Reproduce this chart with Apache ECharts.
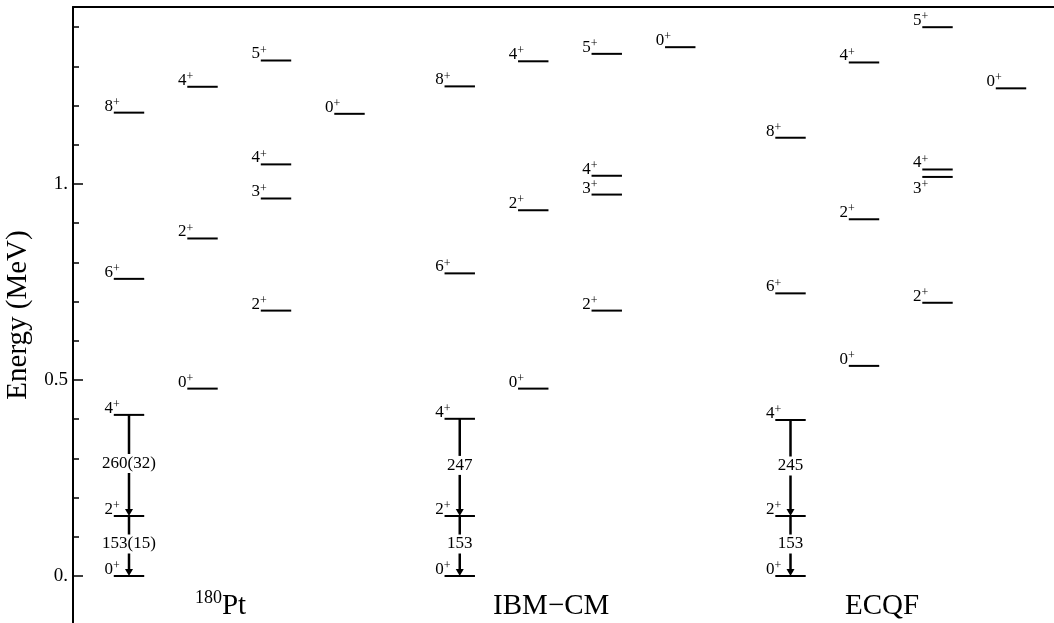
<!DOCTYPE html>
<html>
<head>
<meta charset="utf-8">
<script src="https://cdn.jsdelivr.net/npm/echarts@6/dist/echarts.min.js"></script>
<style>
  html, body { margin: 0; padding: 0; background: #fff; }
  #chart { width: 1054px; height: 623px; }
</style>
</head>
<body>
<div id="chart"></div>
<script>
// Level schemes of 180Pt: experiment, IBM-CM and ECQF (energies in MeV)

const panelNames = ['180Pt', 'IBM−CM', 'ECQF'];

// [column, J, energy (MeV)] — all states have positive parity
const expLevels = [
  [0, '0', 0.000], [0, '2', 0.153], [0, '4', 0.411], [0, '6', 0.758], [0, '8', 1.182],
  [1, '0', 0.478], [1, '2', 0.861], [1, '4', 1.248],
  [2, '2', 0.677], [2, '3', 0.963], [2, '4', 1.050], [2, '5', 1.315],
  [3, '0', 1.179]
];
const ibmLevels = [
  [0, '0', 0.000], [0, '2', 0.153], [0, '4', 0.401], [0, '6', 0.772], [0, '8', 1.249],
  [1, '0', 0.478], [1, '2', 0.933], [1, '4', 1.313],
  [2, '2', 0.677], [2, '3', 0.973], [2, '4', 1.021], [2, '5', 1.332],
  [3, '0', 1.349]
];
const ecqfLevels = [
  [0, '0', 0.000], [0, '2', 0.153], [0, '4', 0.398], [0, '6', 0.721], [0, '8', 1.118],
  [1, '0', 0.536], [1, '2', 0.910], [1, '4', 1.310],
  [2, '2', 0.697], [2, '3', 1.018], [2, '4', 1.037], [2, '5', 1.400],
  [3, '0', 1.244]
];

// Yrast E2 transitions in column 0: [initial J, final J, B(E2) in W.u.]
const expTransitions = [['4', '2', '260(32)'], ['2', '0', '153(15)']];
const ibmTransitions = [['4', '2', '247'], ['2', '0', '153']];
const ecqfTransitions = [['4', '2', '245'], ['2', '0', '153']];

const yTickValues = [0, 0.5, 1];
const yTickLabels = ['0.', '0.5', '1.'];
const yMinorTicks = [0.1, 0.2, 0.3, 0.4, 0.6, 0.7, 0.8, 0.9, 1.1, 1.2, 1.3, 1.4];

// ---- layout ----
const FONT = '"Liberation Serif", "Times New Roman", Times, serif';
const PANEL_STEP = 4.5;     // column slots between panels
const HALF = 0.207;         // half width of a level line (column units)
const CLOSE_GAP = 0.03;     // MeV: closer than this, the label goes below the line
const TITLE_SHIFT = 1.245;  // title centre relative to first column
const TITLE_E = -0.074;     // title height on the energy scale

const panelLevels = [expLevels, ibmLevels, ecqfLevels];
const panelTransitions = [expTransitions, ibmTransitions, ecqfTransitions];

const levelData = [], levelMeta = [];
panelLevels.forEach((levels, p) => {
  levels.forEach(([c, j, e]) => {
    const below = levels.some(([c2, , e2]) => c2 === c && e2 > e && e2 - e < CLOSE_GAP);
    levelData.push([p * PANEL_STEP + c, e]);
    levelMeta.push({ j, below });
  });
});

const transData = [], transMeta = [];
panelTransitions.forEach((trs, p) => {
  const lv = panelLevels[p];
  const energyOf = j => lv.find(([c, jj]) => c === 0 && jj === j)[2];
  trs.forEach(([ji, jf, label]) => {
    transData.push([p * PANEL_STEP, energyOf(ji), energyOf(jf)]);
    transMeta.push({ label });
  });
});

const titleData = panelNames.map((_, p) => [p * PANEL_STEP + TITLE_SHIFT, TITLE_E]);
const titleText = panelNames.map(n => {
  const m = n.match(/^(\d+)(.*)$/);
  return m ? '{s|' + m[1] + '}{m|' + m[2] + '}' : '{m|' + n + '}';
});

const RICH_J = {
  n: { fontSize: 17, fontFamily: FONT, lineHeight: 18, verticalAlign: 'bottom', fill: '#000', color: '#000' },
  p: { fontSize: 12, fontFamily: FONT, lineHeight: 6, verticalAlign: 'top', fill: '#000', color: '#000' }
};
const RICH_TITLE = {
  m: { fontSize: 29, fontFamily: FONT, lineHeight: 32, verticalAlign: 'bottom', fill: '#000', color: '#000' },
  s: { fontSize: 18, fontFamily: FONT, lineHeight: 18, verticalAlign: 'top', fill: '#000', color: '#000' }
};

function renderLevel(params, api) {
  const m = levelMeta[params.dataIndex];
  const a = api.coord([api.value(0) - HALF, api.value(1)]);
  const b = api.coord([api.value(0) + HALF, api.value(1)]);
  return {
    type: 'group',
    children: [
      { type: 'line', shape: { x1: a[0], y1: a[1], x2: b[0], y2: b[1] },
        style: { stroke: '#000', lineWidth: 2 } },
      { type: 'text', x: a[0] + 6, y: m.below ? a[1] + 2 : a[1] - 16,
        style: { text: '{n|' + m.j + '}{p|+}', rich: RICH_J, align: 'right', verticalAlign: 'top', fill: '#000' } }
    ]
  };
}

function renderTransition(params, api) {
  const m = transMeta[params.dataIndex];
  const top = api.coord([api.value(0), api.value(1)]);
  const bot = api.coord([api.value(0), api.value(2)]);
  const x = top[0];
  return {
    type: 'group',
    children: [
      { type: 'line', shape: { x1: x, y1: top[1], x2: x, y2: bot[1] - 4 },
        style: { stroke: '#000', lineWidth: 2.5 } },
      { type: 'polygon', shape: { points: [[x - 4, bot[1] - 7], [x + 4, bot[1] - 7], [x, bot[1]]] },
        style: { fill: '#000' } },
      { type: 'text', x: x, y: (top[1] + bot[1]) / 2 - 2,
        style: { text: m.label, font: '17px ' + FONT, fill: '#000', align: 'center', verticalAlign: 'middle',
                 backgroundColor: '#fff', padding: [1, 0] } }
    ]
  };
}

function renderTitle(params, api) {
  const pt = api.coord([api.value(0), api.value(1)]);
  return {
    type: 'text', x: pt[0], y: pt[1],
    style: { text: titleText[params.dataIndex], rich: RICH_TITLE, align: 'center', verticalAlign: 'middle', fill: '#000' }
  };
}

const chart = echarts.init(document.getElementById('chart'), null, { renderer: 'canvas' });
chart.setOption({
  animation: false,
  backgroundColor: '#fff',
  grid: { left: 73, top: 7, right: 0, bottom: 0, containLabel: false, outerBoundsMode: 'none' },
  xAxis: {
    type: 'value', position: 'top', min: -0.7619, max: 12.585,
    axisLine: { show: true, onZero: false, lineStyle: { color: '#000', width: 2 } },
    axisTick: { show: false }, axisLabel: { show: false }, splitLine: { show: false }
  },
  yAxis: [
    {
      type: 'value', min: -0.1199, max: 1.4515, position: 'left',
      name: 'Energy (MeV)', nameLocation: 'middle', nameGap: 38,
      nameTextStyle: { fontSize: 29, fontFamily: FONT, color: '#000' },
      axisLine: { show: true, onZero: false, lineStyle: { color: '#000', width: 2 } },
      axisTick: { show: true, inside: true, length: 10, customValues: yTickValues,
                  lineStyle: { color: '#000', width: 1.5 } },
      axisLabel: { show: true, customValues: yTickValues, margin: 5, fontSize: 19, fontFamily: FONT, color: '#000',
                   formatter: v => yTickLabels[yTickValues.findIndex(t => Math.abs(t - v) < 1e-9)] },
      splitLine: { show: false }
    },
    {
      type: 'value', min: -0.1199, max: 1.4515, position: 'left', offset: 0,
      axisLine: { show: false, onZero: false },
      axisTick: { show: true, inside: true, length: 6, customValues: yMinorTicks,
                  lineStyle: { color: '#000', width: 1.5 } },
      axisLabel: { show: false }, splitLine: { show: false }
    }
  ],
  series: [
    { type: 'custom', name: 'levels', renderItem: renderLevel, data: levelData, silent: true },
    { type: 'custom', name: 'transitions', renderItem: renderTransition, data: transData, silent: true, z: 3 },
    { type: 'custom', name: 'titles', renderItem: renderTitle, data: titleData, silent: true }
  ]
});
</script>
</body>
</html>
